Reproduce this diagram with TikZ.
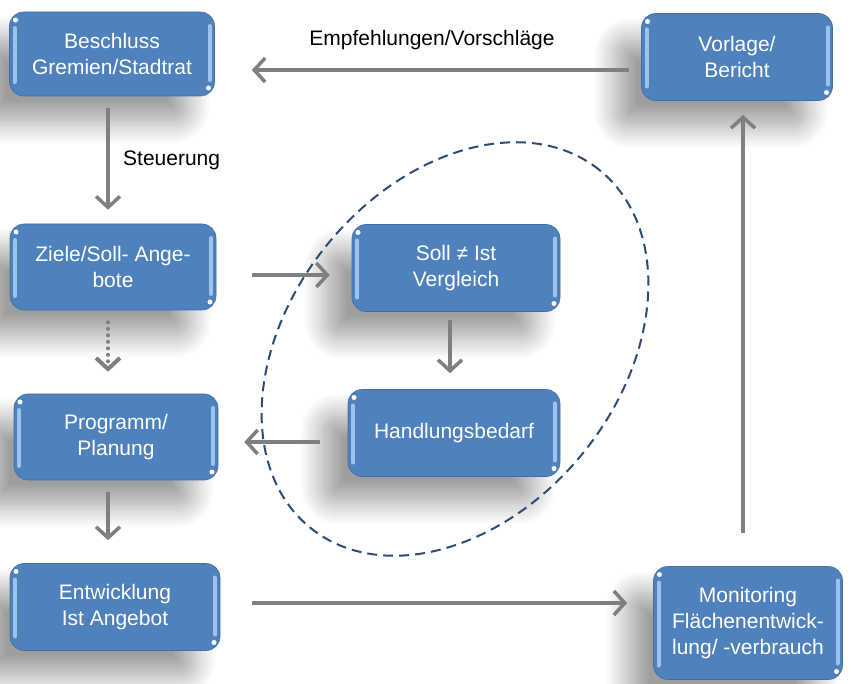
\documentclass[tikz,border=0pt]{standalone}
\usepackage{fontspec}
\setmainfont{Liberation Sans}
\usetikzlibrary{arrows.meta,shadows.blur}
\definecolor{boxblue}{HTML}{4F81BD}
\definecolor{arrgray}{HTML}{7F7F7F}
\definecolor{ringblue}{HTML}{2C4D75}
\definecolor{bevel}{HTML}{9CC2EE}
\tikzset{stage/.style={draw=boxblue!85!black, line width=0.6pt,
    fill=boxblue, rounded corners=14pt, text=white, align=center,
    inner sep=0pt, font=\fontsize{21}{26}\selectfont,
    blur shadow={shadow xshift=-26pt, shadow yshift=-26pt,
      shadow blur radius=22pt, shadow blur steps=20, shadow opacity=38},
    path picture={
      \draw[bevel, line width=4pt, line cap=round]
        ([xshift=5pt,yshift=-16pt]path picture bounding box.north west) --
        ([xshift=5pt,yshift=14pt]path picture bounding box.south west);
      \draw[bevel, line width=4pt, line cap=round]
        ([xshift=-5pt,yshift=-14pt]path picture bounding box.north east) --
        ([xshift=-5pt,yshift=16pt]path picture bounding box.south east);
      \fill[white] ([xshift=6pt,yshift=-8pt]path picture bounding box.north west) circle (2.5pt);
      \fill[white] ([xshift=-6pt,yshift=8pt]path picture bounding box.south east) circle (2.5pt);
    }},
  flow/.style={draw=arrgray, line width=3.5pt,
    -{Straight Barb[length=11pt,width=24pt]}},
  dotflow/.style={flow, line width=4pt, line cap=round, dash pattern=on 0pt off 6.5pt},
  ring/.style={draw=ringblue, line width=2pt, dash pattern=on 10pt off 6pt},
  note/.style={font=\fontsize{21}{26}\selectfont, inner sep=0pt},
}
\begin{document}
\begin{tikzpicture}[x=1pt,y=1pt]
  \useasboundingbox (0,0) rectangle (851,683);
  % linke Spalte
  \node[stage, minimum width=205pt, minimum height=84pt] (besch) at (112,629) {Beschluss\\Gremien/Stadtrat};
  \node[stage, minimum width=206pt, minimum height=86pt] (ziele) at (113,416) {Ziele/Soll- Ange-\\bote};
  \node[stage, minimum width=204pt, minimum height=86pt] (prog) at (116,246) {Programm/\\Planung};
  \node[stage, minimum width=210pt, minimum height=87pt] (entw) at (115,76) {Entwicklung\\Ist Angebot};
  % Mitte
  \node[stage, minimum width=208pt, minimum height=87pt] (soll) at (456,415) {Soll ≠ Ist\\Vergleich};
  \node[stage, minimum width=212pt, minimum height=87pt] (handl) at (454,250) {Handlungsbedarf};
  % rechte Spalte
  \node[stage, minimum width=191pt, minimum height=87pt] (vorl) at (737,626) {Vorlage/\\Bericht};
  \node[stage, minimum width=189pt, minimum height=113pt] (monit) at (748,60) {Monitoring\\Flächenentwick-\\lung/ -verbrauch};
  % Beschriftungen
  \node[note] (empf) at (432,643) {Empfehlungen/Vorschläge};
  \node[note, anchor=west] (steu) at (123,523) {Steuerung};
  % Pfeile
  \draw[flow] ([xshift=-12pt,yshift=-13pt]vorl.west) -- ([xshift=37pt,yshift=-16pt]besch.east);
  \draw[flow] ([xshift=-4pt,yshift=-12pt]besch.south) -- ([xshift=-5pt,yshift=14pt]ziele.north);
  \draw[flow] ([xshift=36pt,yshift=-8pt]ziele.east) -- ([xshift=-22pt,yshift=-7pt]soll.west);
  \draw[dotflow] ([xshift=-5pt,yshift=-12pt]ziele.south) -- ([xshift=-8pt,yshift=22pt]prog.north);
  \draw[flow] ([xshift=-6pt,yshift=-8pt]soll.south) -- ([xshift=-4pt,yshift=16pt]handl.north);
  \draw[flow] ([xshift=-28pt,yshift=-9pt]handl.west) -- ([xshift=26pt,yshift=-5pt]prog.east);
  \draw[flow] ([xshift=-8pt,yshift=-12pt]prog.south) -- ([xshift=-7pt,yshift=23pt]entw.north);
  \draw[flow] ([xshift=32pt,yshift=4pt]entw.east) -- ([xshift=-26pt,yshift=20pt]monit.west);
  \draw[flow] ([xshift=-5pt,yshift=33pt]monit.north) -- ([xshift=6pt,yshift=-14pt]vorl.south);
  % Soll/Ist-Schleife
  \draw[ring, rotate around={51:(455,334)}] (455,334) ellipse [x radius=230, y radius=165];
\end{tikzpicture}
\end{document}
